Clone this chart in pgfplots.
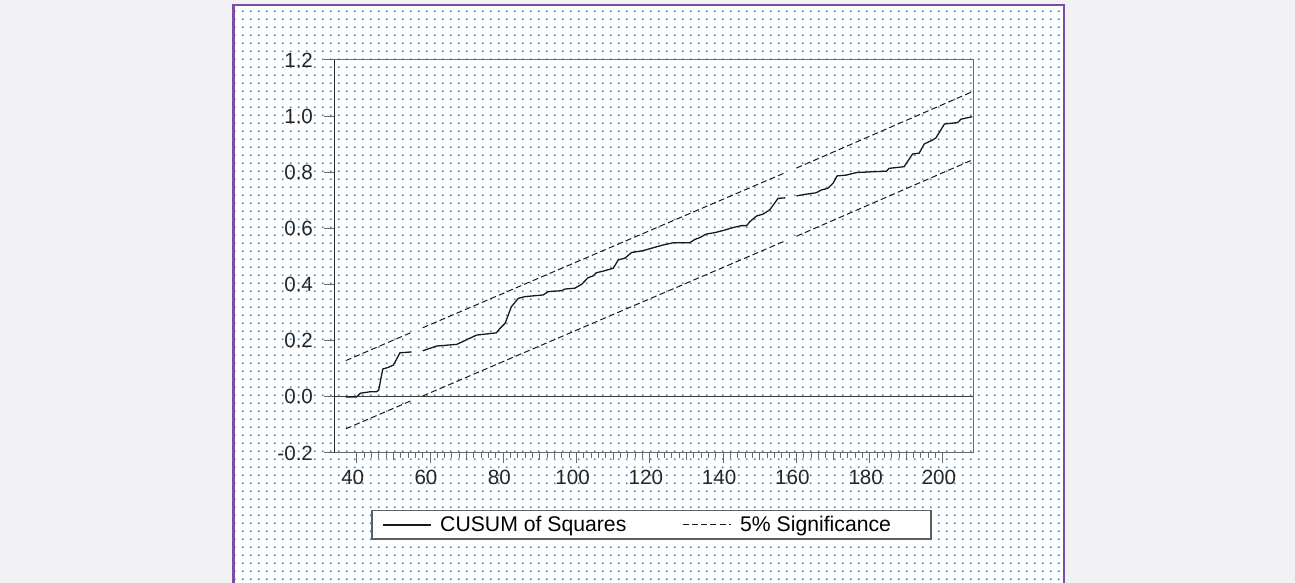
\documentclass[border=0pt]{standalone}
\usepackage{fontspec}
\setmainfont{Liberation Sans}
\usepackage{pgfplots}
\pgfplotsset{compat=1.18}
\usetikzlibrary{patterns}

\definecolor{outergray}{RGB}{242,242,244}
\definecolor{panelpurple}{RGB}{122,78,168}
\definecolor{dotblue}{RGB}{75,145,215}
\definecolor{framegray}{RGB}{105,105,105}
\definecolor{legendgray}{RGB}{95,95,95}

% blue dot raster behind the chart
\pgfdeclarepatterninherentlycolored{bluedots}{\pgfpointorigin}{\pgfpoint{3.85pt}{3.85pt}}{\pgfpoint{3.85pt}{3.85pt}}{%
  \pgfsetfillcolor{dotblue}%
  \pgfpathcircle{\pgfpoint{1.925pt}{1.925pt}}{0.6pt}%
  \pgfusepath{fill}}

\begin{document}
\begin{tikzpicture}[x=0.5pt,y=0.5pt]
\useasboundingbox (0,0) rectangle (1295,583);
\fill[outergray] (0,0) rectangle (1295,583);
\fill[white] (233.5,0) rectangle (1064.3,578.3);
\fill[pattern=bluedots] (233.5,0) rectangle (1064.3,578.3);
\draw[panelpurple, line width=1.1pt] (233.5,0) -- (233.5,578.3) -- (1064.3,578.3) -- (1064.3,0);

\begin{axis}[
    at={(167pt,65pt)}, anchor=south west,
    scale only axis, width=319.5pt, height=196.5pt,
    xmin=33.8, xmax=208.2, ymin=-0.2, ymax=1.2,
    xtick={40,60,...,200}, minor x tick num=9,
    extra x ticks={50,70,...,190}, extra x tick labels={},
    extra x tick style={major tick length=3.6pt},
    ytick={-0.2,0,0.2,0.4,0.6,0.8,1.0,1.2},
    tick align=outside, xtick pos=bottom, ytick pos=left,
    major tick length=5pt, minor tick length=2.5pt,
    tick style={framegray, line width=0.5pt},
    axis line style={framegray, line width=0.5pt},
    /pgf/number format/assume math mode=true,
    yticklabel style={/pgf/number format/.cd, fixed, fixed zerofill, precision=1,
      /tikz/.cd, xshift=-2pt},
    xticklabel style={xshift=-2pt},
    tick label style={font=\fontsize{10.3}{12}\selectfont, black!85},
    unbounded coords=jump,
    legend columns=2,
    legend cell align=left,
    legend image code/.code={\draw[#1] (0pt,0pt) -- (24pt,0pt);},
    legend style={at={(0.497,-0.183)}, anchor=center, draw=legendgray,
      line width=0.75pt, fill=white, font=\fontsize{10.6}{12}\selectfont,
      inner xsep=5pt, inner ysep=0.5pt,
      /tikz/every odd column/.append style={column sep=2.4pt},
      /tikz/every even column/.append style={column sep=26pt}},
]
% zero line
\addplot[forget plot, black!75, line width=0.6pt] coordinates {(33.8,0) (208.2,0)};

\addplot[black!90, line width=0.65pt] coordinates {
  (37,0) (40,0) (41,0.013) (43.6,0.018) (45.4,0.018) (46,0.024)
  (47.1,0.099) (48.6,0.105) (50,0.113) (51.8,0.157) (55,0.160)
  (56,nan)
  (58,0.164) (60,0.173) (61.8,0.181) (67.3,0.187) (70.9,0.209) (72.7,0.220)
  (78.1,0.228) (79.1,0.244) (80.5,0.262) (82.2,0.321) (84.1,0.351) (85.9,0.357)
  (90.9,0.363) (92.3,0.375) (95.9,0.378) (96.8,0.384) (99.5,0.387) (101.4,0.401)
  (103.1,0.424) (104.5,0.431) (105.4,0.442) (107.3,0.448) (110,0.458) (111.4,0.488)
  (113.2,0.494) (115,0.514) (118.2,0.521) (121.4,0.533) (123.6,0.541) (126.4,0.549)
  (130.9,0.549) (132.3,0.561) (133.6,0.567) (135.4,0.580) (137.7,0.585) (140.4,0.594)
  (142.7,0.603) (145,0.610) (146.4,0.610) (147.3,0.624) (149.1,0.644) (150.9,0.651)
  (152.7,0.666) (155,0.707) (157,0.709)
  (158,nan)
  (160,0.716) (162.7,0.722) (165.4,0.727) (166.8,0.737) (168.6,0.743) (170,0.761)
  (171.1,0.787) (173.6,0.790) (176.4,0.799) (180.9,0.802) (184.6,0.804) (185.3,0.814)
  (189.4,0.820) (191.7,0.865) (193.5,0.868) (194.9,0.901) (197.2,0.915) (198.1,0.923)
  (200.4,0.972) (204,0.977) (204.9,0.989) (208,0.998)
};
\addlegendentry{CUSUM of Squares}

\addplot[black!90, line width=0.5pt, dash pattern=on 3pt off 1.6pt] coordinates {
  (37,0.129) (55,0.230) (56,nan) (58,0.246) (157,0.799) (158,nan) (160,0.815) (208,1.087)
};
\addlegendentry{5\% Significance\rule{13pt}{0pt}}

\addplot[forget plot, black!90, line width=0.5pt, dash pattern=on 3pt off 1.6pt] coordinates {
  (37,-0.114) (55,-0.013) (56,nan) (58,0.003) (157,0.556) (158,nan) (160,0.572) (208,0.844)
};

\draw[black!85, line width=0.65pt] (rel axis cs:0,0) -- (rel axis cs:0,1);
\end{axis}
\end{tikzpicture}
\end{document}
